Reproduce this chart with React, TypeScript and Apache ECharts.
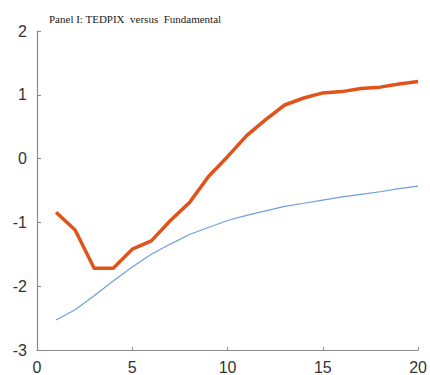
import React, { useEffect, useRef } from "react";
import * as echarts from "echarts";

// Horizon (periods) and the two impulse paths
const horizon = [1, 2, 3, 4, 5, 6, 7, 8, 9, 10, 11, 12, 13, 14, 15, 16, 17, 18, 19, 20];
const tedpix = [-0.84, -1.12, -1.72, -1.72, -1.42, -1.29, -0.97, -0.69, -0.28, 0.03, 0.36, 0.61, 0.84, 0.95, 1.03, 1.05, 1.1, 1.12, 1.17, 1.21];
const fundamental = [-2.53, -2.37, -2.15, -1.92, -1.7, -1.5, -1.34, -1.19, -1.08, -0.97, -0.89, -0.82, -0.75, -0.7, -0.65, -0.6, -0.56, -0.52, -0.47, -0.43];

const panelTitle = "Panel I: TEDPIX  versus  Fundamental";

export default function App() {
  const ref = useRef<HTMLDivElement>(null);

  useEffect(() => {
    if (!ref.current) return;
    const chart = echarts.init(ref.current, null, { renderer: "svg" });
    const axisLine = { show: true, onZero: false, lineStyle: { color: "#8a8a8a", width: 1.2 } };
    const axisLabel = { color: "#333", fontSize: 16, fontFamily: "Liberation Sans, Arial, sans-serif" };
    chart.setOption({
      animation: false,
      backgroundColor: "#fff",
      title: {
        text: panelTitle,
        left: 44,
        top: 8,
        textStyle: {
          fontFamily: "Liberation Serif, Times New Roman, serif",
          fontSize: 11,
          fontWeight: "normal",
          color: "#1a1a1a",
        },
      },
      grid: { left: 37, right: 11, top: 31, bottom: 24, containLabel: false },
      xAxis: {
        type: "value",
        min: 0,
        max: 20,
        interval: 5,
        axisLine,
        axisTick: { show: true, inside: true, length: 3, lineStyle: { color: "#8a8a8a" } },
        axisLabel: { ...axisLabel, margin: 9 },
        splitLine: { show: false },
      },
      yAxis: {
        type: "value",
        min: -3,
        max: 2,
        interval: 1,
        axisLine,
        axisTick: { show: true, inside: true, length: 4, lineStyle: { color: "#8a8a8a" } },
        axisLabel: { ...axisLabel, margin: 10 },
        splitLine: { show: false },
      },
      series: [
        {
          name: "Fundamental",
          type: "line",
          data: horizon.map((h, i) => [h, fundamental[i]]),
          showSymbol: false,
          lineStyle: { color: "#6f9fd8", width: 1.2 },
        },
        {
          name: "TEDPIX",
          type: "line",
          data: horizon.map((h, i) => [h, tedpix[i]]),
          showSymbol: false,
          lineStyle: { color: "#e0541c", width: 3.5, join: "round" },
        },
      ],
    });
    return () => chart.dispose();
  }, []);

  return <div ref={ref} style={{ width: 430, height: 375, position: "absolute", left: 0, top: 0 }} />;
}
